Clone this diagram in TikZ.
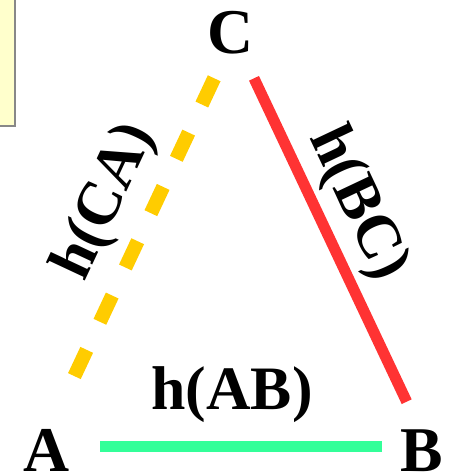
\documentclass[tikz,border=0pt]{standalone}
\usepackage{fontspec}
\setmainfont{Liberation Serif}
\usetikzlibrary{calc}
\definecolor{figGold}{HTML}{FFCC00}
\definecolor{figRed}{HTML}{FF3333}
\definecolor{figMint}{HTML}{33FF99}
\definecolor{noteFill}{HTML}{FFFFCC}
\definecolor{noteEdge}{HTML}{888888}
\tikzset{
  vert/.style={font=\fontsize{64}{64}\selectfont\bfseries, inner sep=0pt},
  hlab/.style={font=\fontsize{62}{62}\selectfont\bfseries, inner sep=0pt},
  notebox/.style={draw=noteEdge, fill=noteFill, line width=1.5bp},
  side/.style={line width=11bp},
  caside/.style={side, draw=figGold, line width=14bp, dash pattern=on 29bp off 31bp},
  bcside/.style={side, draw=figRed},
  abside/.style={side, draw=figMint}
}

\begin{document}
\begin{tikzpicture}[x=1bp, y=-1bp]
\useasboundingbox (0,0) rectangle (452,472);
\clip (0,0) rectangle (452,472);
% note box, cut off at the left edge
\draw[notebox] (-10,-10) rectangle (15,126);
% corners of the triangle
\coordinate (A) at (41.6,446);
\coordinate (B) at (427.6,446);
\coordinate (C) at (234,36);
\node[vert] (lblA) at (47,450) {A};
\node[vert] (lblB) at (422,451) {B};
\node[vert] (lblC) at (231,33) {C};

\draw[caside, shorten <=46.7bp, shorten >=74.7bp] (C) -- (A);
\draw[bcside, shorten <=46.8bp, shorten >=49bp] (C) -- (B);
\draw[abside, shorten <=58.4bp, shorten >=45.6bp] (A) -- (B);

\node[hlab, rotate=64.9] (hCA) at (106,202) {h(CA)};
\node[hlab, rotate=-64.7] (hBC) at (357,204) {h(BC)};
\node[hlab] (hAB) at (232,395) {h(AB)};
\end{tikzpicture}
\end{document}
